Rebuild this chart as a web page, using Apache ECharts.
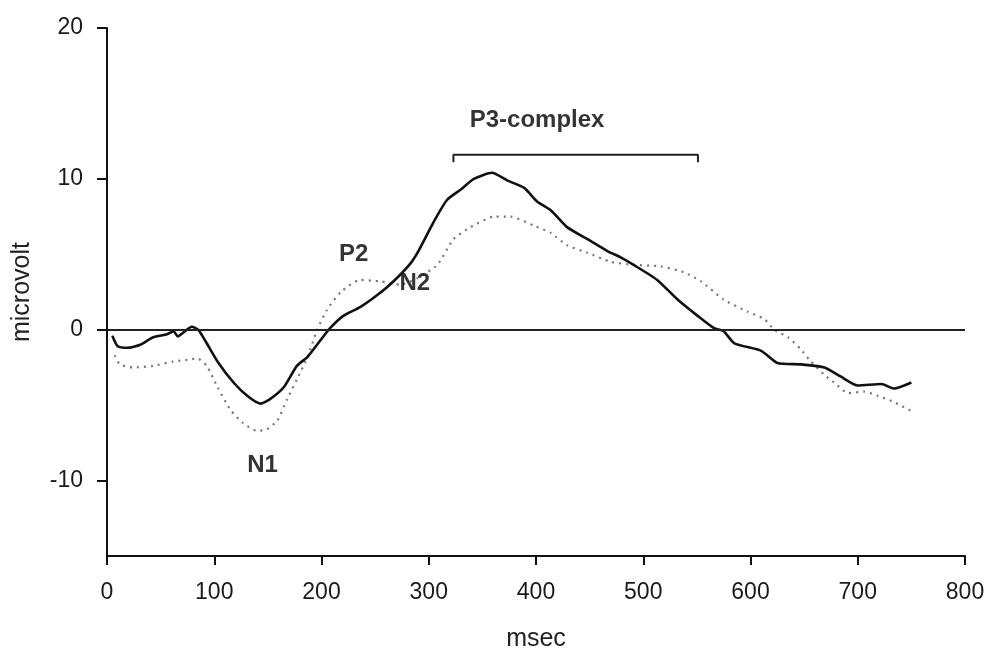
<!DOCTYPE html>
<html>
<head>
<meta charset="utf-8">
<script src="https://cdn.jsdelivr.net/npm/echarts@6/dist/echarts.min.js"></script>
<style>
html,body{margin:0;padding:0;background:#fff;}
#chart{width:989px;height:650px;}
</style>
</head>
<body>
<div id="chart"></div>
<script>
// solid curve (msec / microvolt)
var solidMs = [5,10,19,31,43,56,62,66,71,79,85,93,103,118,131,143,152,165,177,187,199,208,220,236,252,267,283,291,305,317,330,342,359,373,389,401,414,429,448,467,479,491,513,532,551,566,575,585,610,625,647,669,684,700,722,734,750];
var solidUv = [-0.4,-1.1,-1.2,-1.0,-0.5,-0.3,-0.1,-0.45,-0.2,0.2,0,-0.9,-2.1,-3.5,-4.4,-4.9,-4.6,-3.8,-2.4,-1.8,-0.7,0.1,0.9,1.5,2.3,3.2,4.4,5.3,7.2,8.6,9.3,10.0,10.4,9.9,9.4,8.5,7.9,6.8,6.0,5.2,4.8,4.3,3.3,2.0,0.9,0.1,-0.1,-0.9,-1.4,-2.2,-2.3,-2.5,-3.1,-3.7,-3.6,-3.9,-3.5];

// dotted curve
var dottedMs = [7,12,24,43,62,75,84,93,103,115,127,140,149,159,168,177,187,196,205,218,236,255,274,289,308,323,339,361,376,398,414,429,448,470,491,516,538,554,575,597,613,622,635,647,655,669,678,691,706,719,734,750];
var dottedUv = [-1.7,-2.3,-2.5,-2.4,-2.1,-2.0,-1.9,-2.4,-3.8,-5.3,-6.2,-6.7,-6.6,-6.0,-4.6,-3.3,-1.8,0,1.3,2.5,3.3,3.2,3.0,3.4,4.3,6.0,6.8,7.5,7.5,6.9,6.4,5.6,5.1,4.5,4.3,4.2,3.8,3.2,2.0,1.2,0.7,0,-0.5,-1.3,-2.0,-3.0,-3.5,-4.2,-4.1,-4.4,-4.8,-5.4];

// P3-complex bracket
var bracketMs = [323,323,551,551];
var bracketUv = [11.1,11.6,11.6,11.1];

// peak labels
var peakNames = ['P2','N2','N1','P3-complex'];
var peakMs = [230,287,145,401];
var peakUv = [5.0,3.1,-9.0,13.9];

var yTicks = [-10,0,10,20];

function pairs(xs, ys){
	var out = [];
	for (var i=0;i<xs.length;i++) { out.push([xs[i], ys[i]]); }
	return out;
}

var labelData = [];
for (var k=0;k<peakNames.length;k++) {
	labelData.push({name: peakNames[k], value: [peakMs[k], peakUv[k]]});
}

var font = 'Liberation Sans, Arial, Helvetica, sans-serif';
var myChart = echarts.init(document.getElementById('chart'));
var option = {
	backgroundColor: '#fff',
	animation: false,
	grid: {left: 107, right: 24, top: 28, bottom: 94, outerBoundsMode: 'none', containLabel: false},
	xAxis: {
		type: 'value',
		min: 0, max: 800, interval: 100,
		name: 'msec',
		nameLocation: 'middle',
		nameGap: 71,
		nameTextStyle: {fontFamily: font, fontSize: 25, color: '#222'},
		axisLine: {onZero: false, lineStyle: {color: '#111', width: 2}},
		axisTick: {show: true, inside: false, length: 9, lineStyle: {color: '#111', width: 2}},
		axisLabel: {fontFamily: font, fontSize: 23, color: '#1a1a1a', margin: 25},
		splitLine: {show: false}
	},
	yAxis: {
		type: 'value',
		min: -15, max: 20,
		name: 'microvolt',
		nameLocation: 'middle',
		nameGap: 72,
		nameRotate: 90,
		nameTextStyle: {fontFamily: font, fontSize: 25, color: '#222'},
		axisLine: {show: true, onZero: false, lineStyle: {color: '#111', width: 2}},
		axisTick: {show: true, length: 10, customValues: yTicks, lineStyle: {color: '#111', width: 2}},
		axisLabel: {fontFamily: font, fontSize: 23, color: '#1a1a1a', margin: 24, customValues: yTicks},
		splitLine: {show: false}
	},
	series: [
		{
			name: 'solid',
			type: 'line',
			data: pairs(solidMs, solidUv),
			showSymbol: false,
			smooth: 0.2,
			lineStyle: {color: '#111', width: 2.6},
			markLine: {
				silent: true,
				symbol: 'none',
				label: {show: false},
				lineStyle: {color: '#222', width: 2, type: 'solid'},
				data: [{yAxis: 0}]
			},
			z: 3
		},
		{
			name: 'dotted',
			type: 'line',
			data: pairs(dottedMs, dottedUv),
			showSymbol: false,
			smooth: 0.2,
			lineStyle: {color: '#777', width: 2.2, type: [2, 5]},
			z: 2
		},
		{
			name: 'bracket',
			type: 'line',
			data: pairs(bracketMs, bracketUv),
			showSymbol: false,
			lineStyle: {color: '#222', width: 2}
		},
		{
			name: 'labels',
			type: 'scatter',
			symbolSize: 0,
			data: labelData,
			label: {
				show: true,
				position: 'inside',
				formatter: '{b}',
				fontFamily: font,
				fontWeight: 'bold',
				fontSize: 24,
				color: '#000'
			}
		}
	]
};
myChart.setOption(option);
</script>
</body>
</html>
